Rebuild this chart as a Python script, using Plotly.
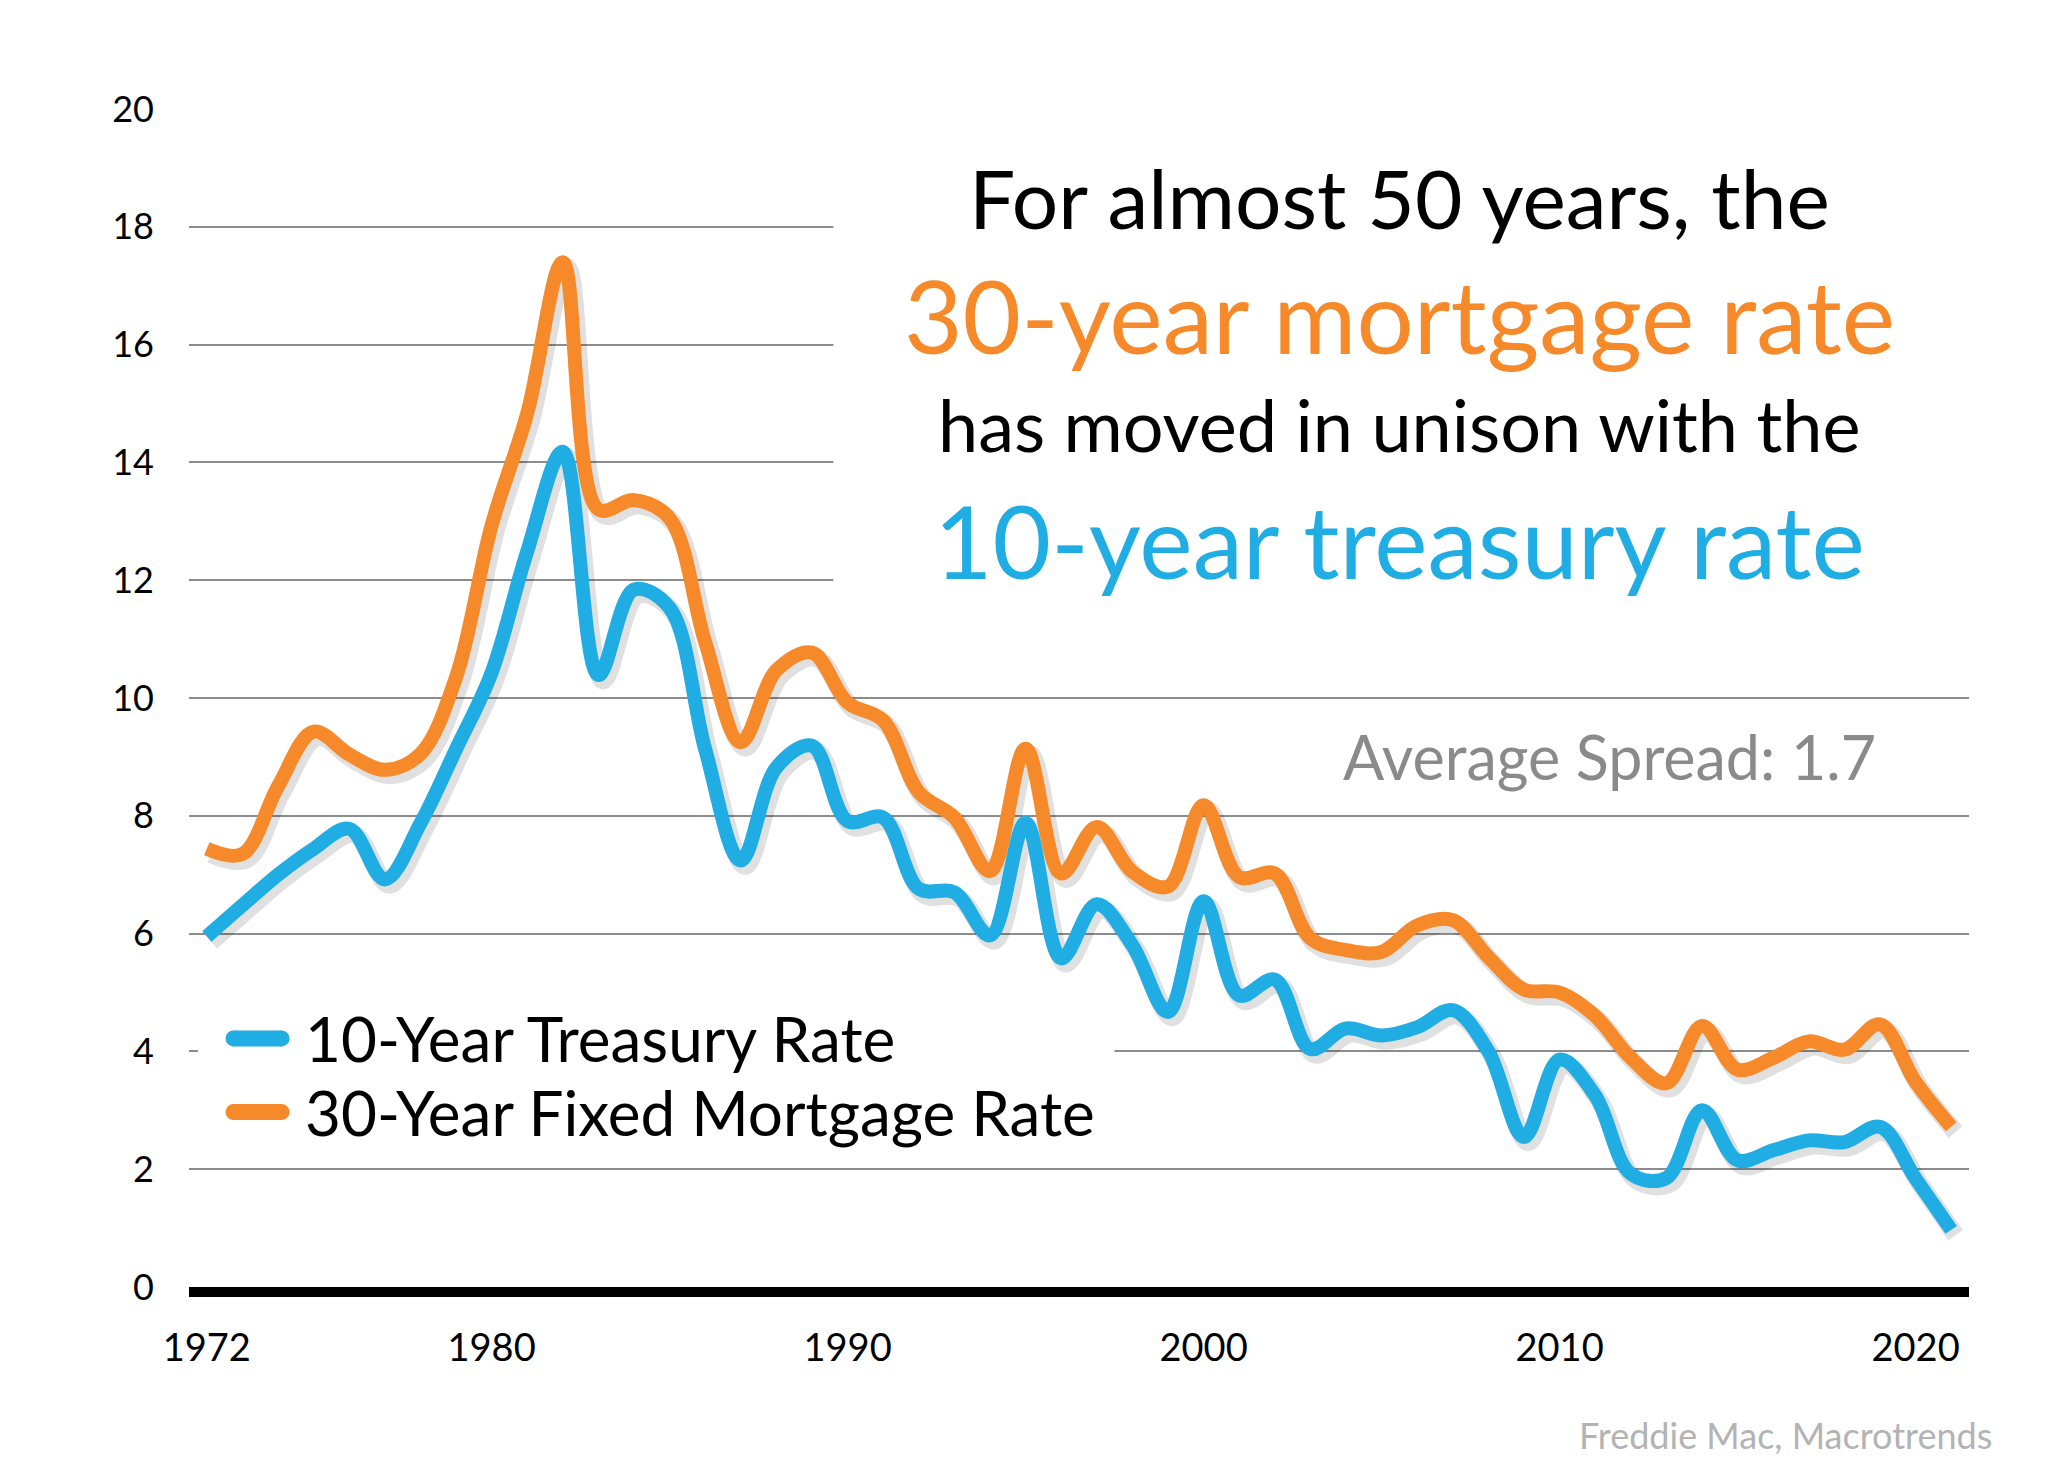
import plotly.graph_objects as go

# valeurs (taux annuels, %)
years = list(range(1972, 2022))
mortgage_30y = [7.44, 7.35, 8.5, 9.43, 9.04, 8.78, 9.05, 10.35, 12.93, 14.83,
                17.4, 13.2, 13.36, 13.05, 10.95, 9.25, 10.47, 10.77, 9.92, 9.62,
                8.4, 7.97, 7.06, 9.14, 7.02, 7.81, 7.05, 6.8, 8.18, 6.96,
                7.02, 5.92, 5.72, 5.69, 6.14, 6.23, 5.6, 5.05, 5.0, 4.6,
                3.89, 3.46, 4.43, 3.69, 3.89, 4.17, 4.03, 4.46, 3.48, 2.72]
treasury_10y = [5.95, 6.48, 7.0, 7.44, 7.78, 6.92, 7.87, 9.13, 10.43, 12.49,
                14.18, 10.39, 11.84, 11.53, 9.13, 7.24, 8.82, 9.19, 7.91, 7.97,
                6.76, 6.7, 5.97, 7.88, 5.58, 6.5, 5.8, 4.67, 6.55, 4.95,
                5.22, 4.04, 4.39, 4.27, 4.41, 4.7, 4.0, 2.55, 3.86, 3.25,
                1.92, 1.85, 3.0, 2.15, 2.32, 2.49, 2.46, 2.72, 1.84, 0.97]
x_ticks = [1972, 1980, 1990, 2000, 2010, 2020]
series_names = ["10-Year Treasury Rate", "30-Year Fixed Mortgage Rate"]

ORANGE = "#F68A2A"
BLUE = "#1FADE4"
FONT = "Lato"

fig = go.Figure()

# ombre portée légère (façon Excel)
for ys in (treasury_10y, mortgage_30y):
    fig.add_trace(go.Scatter(x=[x + 0.12 for x in years], y=[v - 0.09 for v in ys],
                             mode="lines", line=dict(color="rgba(0,0,0,0.12)", width=18,
                                                     shape="spline", smoothing=1),
                             hoverinfo="skip", showlegend=False))

for name, ys, col in ((series_names[0], treasury_10y, BLUE),
                      (series_names[1], mortgage_30y, ORANGE)):
    fig.add_trace(go.Scatter(x=years, y=ys, mode="lines", name=name,
                             line=dict(color=col, width=14, shape="spline", smoothing=1),
                             showlegend=False))

# zones blanches qui coupent la grille sous le titre et la légende
shapes = [
    dict(type="rect", xref="x", yref="y", x0=1989.6, x1=2022, y0=10.4, y1=19.6,
         fillcolor="white", line=dict(width=0), layer="between"),
    dict(type="rect", xref="x", yref="y", x0=1971.75, x1=1997.5, y0=3.3, y1=4.7,
         fillcolor="white", line=dict(width=0), layer="between"),
]

# légende dessinée à la main (traits épais arrondis)
leg_y = [4.22, 2.97]
for yy, col in zip(leg_y, (BLUE, ORANGE)):
    shapes.append(dict(type="line", xref="x", yref="y", x0=1972.75, x1=1974.1,
                       y0=yy, y1=yy, line=dict(color=col, width=16)))
    for xe in (1972.75, 1974.1):
        shapes.append(dict(type="circle", xref="x", yref="y", xsizemode="pixel",
                           ysizemode="pixel", xanchor=xe, yanchor=yy,
                           x0=-8, x1=8, y0=-8, y1=8, fillcolor=col,
                           line=dict(width=0)))

annotations = []
for yy, name in zip(leg_y, series_names):
    annotations.append(dict(x=1974.7, y=yy, xref="x", yref="y", text=name,
                            showarrow=False, xanchor="left", yanchor="middle",
                            font=dict(family=FONT, size=62, color="black")))

title_lines = [
    ("For almost 50 years, the", 18.5, 82, "black"),
    ("30-year mortgage rate", 16.5, 101, ORANGE),
    ("has moved in unison with the", 14.65, 72, "black"),
    ("10-year treasury rate", 12.68, 101, BLUE),
]
for txt, yy, sz, col in title_lines:
    annotations.append(dict(x=2005.5, y=yy, xref="x", yref="y", text=txt,
                            showarrow=False, xanchor="center", yanchor="middle",
                            font=dict(family=FONT, size=sz, color=col)))

annotations.append(dict(x=2011.4, y=9.0, xref="x", yref="y",
                        text="Average Spread: 1.7", showarrow=False,
                        xanchor="center", yanchor="middle",
                        font=dict(family=FONT, size=61, color="#8a8a8a")))
annotations.append(dict(x=1.014, y=-0.126, xref="paper", yref="paper",
                        text="Freddie Mac, Macrotrends", showarrow=False,
                        xanchor="right", yanchor="middle",
                        font=dict(family=FONT, size=36, color="#b3b3b3")))

fig.update_layout(
    width=2064, height=1478,
    margin=dict(l=181, r=103, t=101, b=199),
    paper_bgcolor="white", plot_bgcolor="white",
    shapes=shapes, annotations=annotations,
    xaxis=dict(range=[1971.5, 2021.5], tickvals=x_ticks, showgrid=False,
               zeroline=False, showline=True, linecolor="black", linewidth=10,
               ticks="", ticklabelstandoff=18,
               tickfont=dict(family=FONT, size=38, color="black")),
    yaxis=dict(range=[0, 20], dtick=2, showgrid=True, gridcolor="#8c8c8c",
               gridwidth=2, zeroline=False, showline=False, ticks="",
               ticklabelstandoff=34,
               tickfont=dict(family=FONT, size=36, color="black")),
)

fig.write_html("out.html")
